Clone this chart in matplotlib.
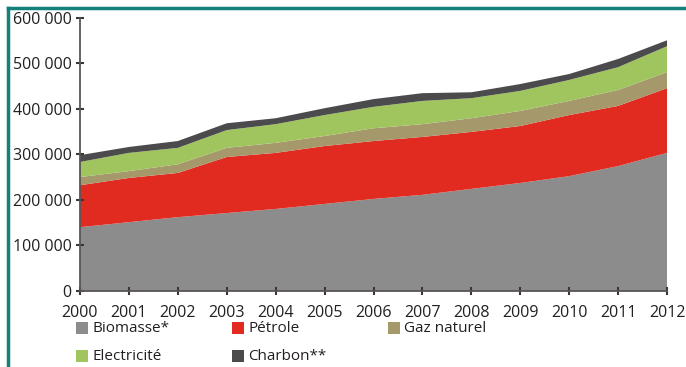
import matplotlib.pyplot as plt
from matplotlib.lines import Line2D
from matplotlib.patches import Rectangle

years = list(range(2000, 2013))

# consommation par source (valeurs cumulees lues par couche)
biomasse = [140000, 151000, 162000, 171000, 180000, 191000, 202000, 211000, 224000, 237000, 252000, 274000, 303000]
petrole = [92000, 97000, 97000, 123000, 123000, 127000, 127000, 127000, 125000, 125000, 134000, 132000, 142000]
gaz = [18000, 15000, 19000, 20000, 22000, 22000, 28000, 28000, 30000, 33000, 31000, 35000, 35000]
electricite = [33000, 40000, 36000, 39000, 41000, 46000, 47000, 51000, 44000, 44000, 46000, 50000, 57000]
charbon = [15000, 13000, 15000, 15000, 13000, 15000, 17000, 17000, 13000, 15000, 13000, 18000, 13000]

labels = ['Biomasse*', 'Pétrole', 'Gaz naturel', 'Electricité', 'Charbon**']
colors = ['#8c8c8c', '#e22b20', '#a5986a', '#a0c55e', '#4b4b4d']

yticks = [0, 100000, 200000, 300000, 400000, 500000, 600000]
ytick_labels = ['0', '100 000', '200 000', '300 000', '400 000', '500 000', '600 000']

plt.rcParams['font.family'] = ['Open Sans', 'DejaVu Sans']

fig = plt.figure(figsize=(6.86, 3.67), dpi=100)
ax = fig.add_axes([80 / 686, 1 - 291 / 367, 587 / 686, 273.5 / 367])

ax.stackplot(years, biomasse, petrole, gaz, electricite, charbon,
             colors=colors, linewidth=0)

ax.set_xlim(2000, 2012)
ax.set_ylim(0, 600000)
ax.set_xticks(years)
ax.set_xticklabels([str(y) for y in years], fontsize=11.5, color='#231f20')
ax.set_yticks(yticks)
ax.set_yticklabels(ytick_labels, fontsize=11.5, color='#231f20')

for side in ['top', 'right']:
    ax.spines[side].set_visible(False)
for side in ['left', 'bottom']:
    ax.spines[side].set_color('#5a5556')
    ax.spines[side].set_linewidth(1.3)
ax.tick_params(axis='x', direction='inout', length=6, width=1.5, color='#3a3536', pad=7)
ax.tick_params(axis='y', direction='inout', length=6, width=1.5, color='#3a3536', pad=3)

# legende sur deux lignes
legend_pos = [(76, 328), (232, 328), (388, 328), (76, 356), (232, 356)]
for (x, y), lab, col in zip(legend_pos, labels, colors):
    fig.patches.append(Rectangle((x / 686, 1 - (y + 6) / 367), 12 / 686, 12 / 367,
                                 transform=fig.transFigure, facecolor=col, edgecolor='none'))
    fig.text((x + 16) / 686, 1 - y / 367, lab, fontsize=11, color='#231f20',
             va='center', ha='left')

# cadre turquoise en haut et a gauche
fig.lines.append(Line2D([8 / 686, 1], [1 - 8 / 367, 1 - 8 / 367], transform=fig.transFigure,
                        color='#14807a', linewidth=2.5))
fig.lines.append(Line2D([8 / 686, 8 / 686], [1 - 8 / 367, 0], transform=fig.transFigure,
                        color='#14807a', linewidth=2.5))

fig.savefig('out.png', dpi=100)
